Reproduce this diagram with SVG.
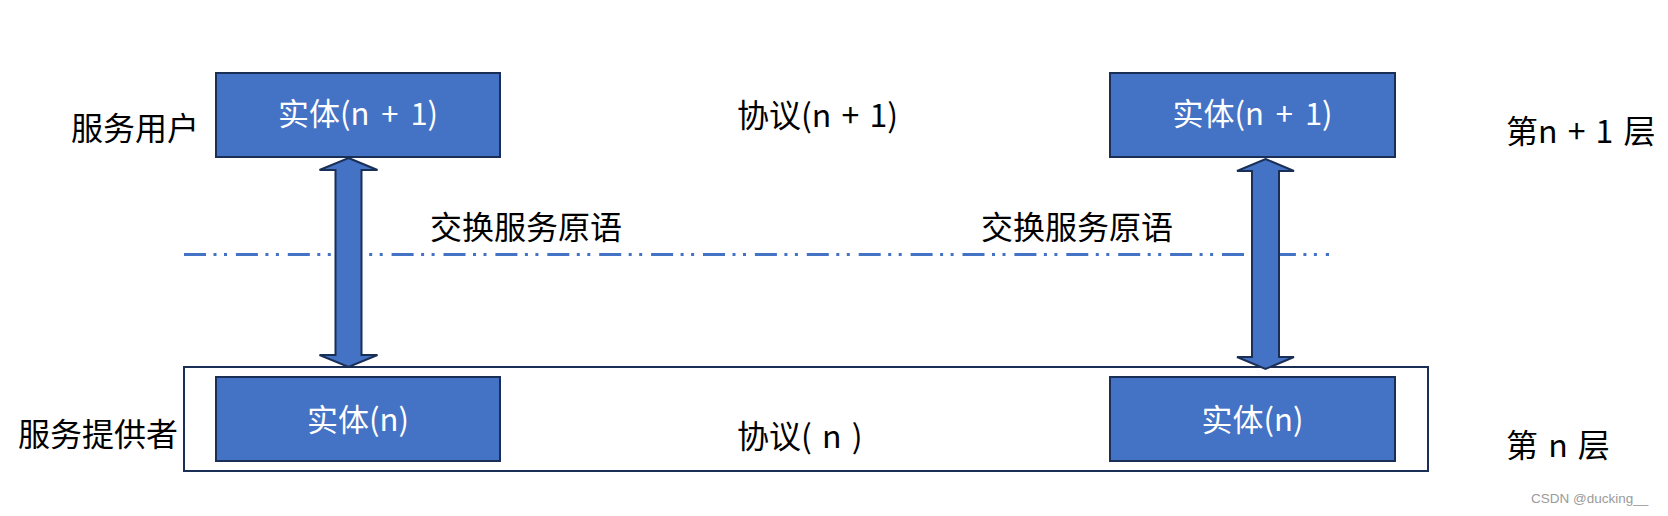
<svg xmlns="http://www.w3.org/2000/svg" width="1668" height="516" viewBox="0 0 1668 516">
<style>
.box{fill:#4472c4;stroke:#1a2f56;stroke-width:2}
.arrow{fill:#4472c4;stroke:#1a2f56;stroke-width:2;stroke-linejoin:miter}
.wt{fill:#ffffff;font-family:"Noto Sans CJK SC","Noto Sans",sans-serif;font-size:31px;text-anchor:middle;word-spacing:5px}
.bt{fill:#000000;font-family:"Noto Sans CJK SC","Noto Sans",sans-serif;font-size:32px;word-spacing:3px}
.wm{fill:#9a9a9a;font-family:"Liberation Sans",Arial,sans-serif;font-size:13.5px}
</style>
<rect width="1668" height="516" fill="#ffffff"/>
<g id="layer-n-frame">
<rect x="184" y="367" width="1244" height="104" fill="none" stroke="#1a2f56" stroke-width="2"/>
</g>
<g id="boundary-line">
<line x1="184" y1="254.5" x2="1329" y2="254.5" stroke="#4472c4" stroke-width="3" stroke-dasharray="22 7.5 3 7.5 3 8.9"/>
</g>
<g id="entity-n1-left">
<rect class="box" x="216" y="73" width="284" height="84"/>
<text class="wt" x="358" y="125">实体(n + 1)</text>
</g>
<g id="entity-n1-right">
<rect class="box" x="1110" y="73" width="285" height="84"/>
<text class="wt" x="1252.5" y="125">实体(n + 1)</text>
</g>
<g id="entity-n-left">
<rect class="box" x="216" y="377" width="284" height="84"/>
<text class="wt" x="358" y="431">实体(n)</text>
</g>
<g id="entity-n-right">
<rect class="box" x="1110" y="377" width="285" height="84"/>
<text class="wt" x="1252.5" y="431">实体(n)</text>
</g>
<g id="connectors">
<path class="arrow" d="M348.5,158 L377.5,170 L361.5,170 L361.5,355 L377.5,355 L348.5,367 L319.5,355 L335.5,355 L335.5,170 L319.5,170 Z"/>
<path class="arrow" d="M1265.5,159 L1294,171 L1279,171 L1279,357 L1294,357 L1265.5,369 L1237,357 L1252,357 L1252,171 L1237,171 Z"/>
</g>
<g id="labels">
<text class="bt" x="199" y="140" text-anchor="end">服务用户</text>
<text class="bt" x="178" y="446" text-anchor="end">服务提供者</text>
<text class="bt" x="737" y="127">协议(n + 1)</text>
<text class="bt" x="737" y="448">协议( n )</text>
<text class="bt" x="430" y="239">交换服务原语</text>
<text class="bt" x="981" y="239">交换服务原语</text>
<text class="bt" x="1506" y="143">第n + 1 层</text>
<text class="bt" x="1506" y="457">第 n 层</text>
<text class="wm" x="1531" y="503">CSDN @ducking__</text>
</g>
</svg>
